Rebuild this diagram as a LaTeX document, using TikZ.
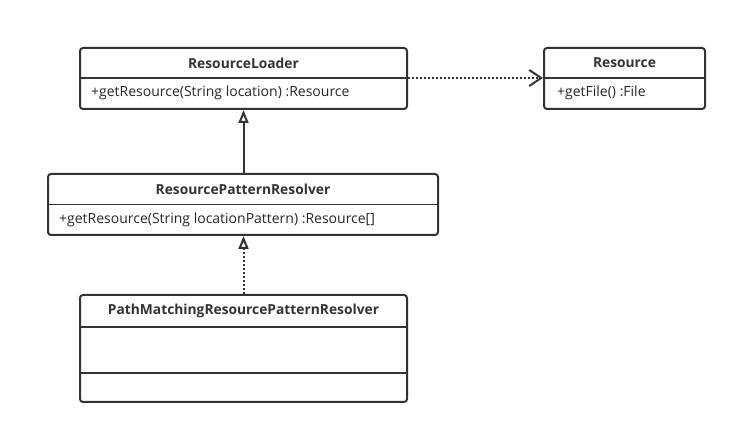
\documentclass[tikz,border=0pt]{standalone}
\usepackage{fontspec}
\setmainfont{Open Sans}
\usetikzlibrary{arrows.meta,positioning,calc}

\begin{document}
\begin{tikzpicture}[x=1pt,y=-1pt,
	classbox/.style={draw=black!80,line width=2pt,rounded corners=3pt,inner sep=0pt},
	classname/.style={font=\bfseries\fontsize{13.8}{16}\selectfont,text=black!80,inner sep=0pt},
	member/.style={font=\fontsize{14}{16}\selectfont,text=black!85,anchor=west,inner sep=0pt},
	divider/.style={draw=black!80,line width=1.6pt},
	extends/.style={draw=black!80,line width=2pt,-{Triangle[open,length=13pt,width=10pt]}},
	realizes/.style={draw=black!80,line width=2pt,dotted,-{Triangle[open,length=13pt,width=10pt,line width=2pt]}},
	uses/.style={draw=black!80,line width=2pt,dotted,-{Straight Barb[length=12pt,width=16pt,line width=2pt]}}]
	\useasboundingbox (0,0) rectangle (737,435);
	% classes
	\node[classbox,minimum width=327pt,minimum height=61pt] (loader) at (243.5,78.5) {};
	\node[classbox,minimum width=161pt,minimum height=61pt] (res) at (624.5,78.5) {};
	\node[classbox,minimum width=390pt,minimum height=61pt] (resolver) at (243,204.5) {};
	\node[classbox,minimum width=327pt,minimum height=107pt] (pmr) at (243.5,348.5) {};
	% compartments
	\coordinate (loadersep) at (243.5,78);
	\coordinate (ressep) at (624.5,78);
	\coordinate (resolversep) at (243,204.5);
	\coordinate (pmrsep1) at (243.5,327);
	\coordinate (pmrsep2) at (243.5,373);
	\draw[divider] (loader.west |- loadersep) -- (loader.east |- loadersep);
	\draw[divider] (res.west |- ressep) -- (res.east |- ressep);
	\draw[divider] (resolver.west |- resolversep) -- (resolver.east |- resolversep);
	\draw[divider] (pmr.west |- pmrsep1) -- (pmr.east |- pmrsep1);
	\draw[divider] (pmr.west |- pmrsep2) -- (pmr.east |- pmrsep2);
	% names and members
	\node[classname] (loadername) at (243.5,63) {ResourceLoader};
	\node[member] (loaderop) at (91,93) {+getResource(String location) :Resource};
	\node[classname] (resname) at (624.5,63) {Resource};
	\node[member] (resop) at (557,93) {+getFile() :File};
	\node[classname] (resolvername) at (243,189) {ResourcePatternResolver};
	\node[member] (resolverop) at (59,219.5) {+getResource(String locationPattern) :Resource[]};
	\node[classname] (pmrname) at (243.5,311) {PathMatchingResourcePatternResolver};
	% relations
	\draw[extends] (resolver.north -| loader.south) -- (loader.south);
	\draw[realizes] (pmr.north) -- (resolver.south -| pmr.north);
	\draw[uses] (loader.east |- loadersep) -- (res.west |- ressep);
\end{tikzpicture}
\end{document}
